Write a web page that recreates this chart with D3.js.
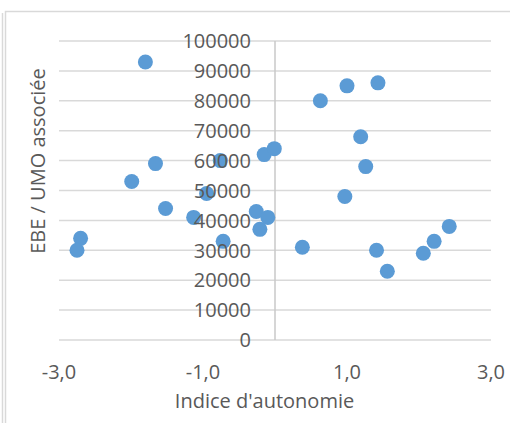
<!DOCTYPE html>
<html>
<head>
<meta charset="utf-8">
<script src="https://cdn.jsdelivr.net/npm/d3@7"></script>
<style>
  body { margin: 0; background: #fff; }
  svg { display: block; font-family: "Open Sans", sans-serif; }
</style>
</head>
<body>
<script>
// indice d'autonomie / EBE par UMO associée
var indice = [-1.80, -1.66, -1.99, -1.52, -1.13, -2.70, -2.75, -0.95, -0.76, -0.72,
              -0.26, -0.21, -0.10, -0.15, -0.01, 0.38, 0.97, 1.19, 1.26, 1.41,
              1.56, 2.06, 2.21, 2.42, 0.63, 1.00, 1.43];
var ebe = [93000, 59000, 53000, 44000, 41000, 34000, 30000, 49000, 60000, 33000,
           43000, 37000, 41000, 62000, 64000, 31000, 48000, 68000, 58000, 30000,
           23000, 29000, 33000, 38000, 80000, 85000, 86000];
var xTicks = [-3, -1, 1, 3];
var yTicks = [0, 10000, 20000, 30000, 40000, 50000, 60000, 70000, 80000, 90000, 100000];
var xTitle = "Indice d'autonomie";
var yTitle = "EBE / UMO associée";

var width = 510, height = 423;

var fr = d3.formatLocale({decimal: ",", thousands: " ", grouping: [3], currency: ["", " €"], minus: "-"});
var fmtX = fr.format(".1f");

var x = d3.scaleLinear().domain([-3, 3]).range([59, 491]);
var y = d3.scaleLinear().domain([0, 100000]).range([340, 41]);

var svg = d3.select("body").append("svg")
    .attr("width", width)
    .attr("height", height);

// cadre du graphique
svg.append("line")
    .attr("x1", 2.5).attr("x2", 2.5)
    .attr("y1", 13).attr("y2", height)
    .style("stroke", "#d9d9d9").style("stroke-width", 1.5);
svg.append("rect")
    .attr("x", 5.5).attr("y", 11.5)
    .attr("width", 520).attr("height", 430)
    .style("fill", "none")
    .style("stroke", "#d9d9d9").style("stroke-width", 1.5);

// quadrillage horizontal
svg.append("g")
    .selectAll("line")
    .data(yTicks)
  .enter().append("line")
    .attr("x1", x(-3)).attr("x2", x(3))
    .attr("y1", function(d) { return y(d); })
    .attr("y2", function(d) { return y(d); })
    .style("stroke", "#d9d9d9")
    .style("stroke-width", 1.5);

// axe vertical en x = 0
svg.append("line")
    .attr("x1", x(0)).attr("x2", x(0))
    .attr("y1", y(100000)).attr("y2", y(0))
    .style("stroke", "#c9c9c9")
    .style("stroke-width", 1.5);

// points
svg.append("g")
    .selectAll("circle")
    .data(indice.map(function(v, i) { return {x: v, y: ebe[i]}; }))
  .enter().append("circle")
    .attr("cx", function(d) { return x(d.x); })
    .attr("cy", function(d) { return y(d.y); })
    .attr("r", 7.5)
    .style("fill", "#5b9bd5");

// étiquettes axe y
svg.append("g")
    .selectAll("text")
    .data(yTicks)
  .enter().append("text")
    .attr("x", x(0) - 24)
    .attr("y", function(d) { return y(d); })
    .attr("dy", "0.36em")
    .attr("text-anchor", "end")
    .style("font-size", "20px")
    .style("fill", "#595959")
    .text(function(d) { return d; });

// étiquettes axe x
svg.append("g")
    .selectAll("text")
    .data(xTicks)
  .enter().append("text")
    .attr("x", function(d) { return x(d); })
    .attr("y", 379)
    .attr("text-anchor", "middle")
    .style("font-size", "20px")
    .style("fill", "#595959")
    .text(function(d) { return fmtX(d); });

svg.append("text")
    .attr("x", 264.5)
    .attr("y", 408)
    .attr("text-anchor", "middle")
    .style("font-size", "20px")
    .style("fill", "#595959")
    .text(xTitle);

svg.append("text")
    .attr("transform", "translate(45,161) rotate(-90)")
    .attr("text-anchor", "middle")
    .style("font-size", "20px")
    .style("fill", "#595959")
    .text(yTitle);
</script>
</body>
</html>
